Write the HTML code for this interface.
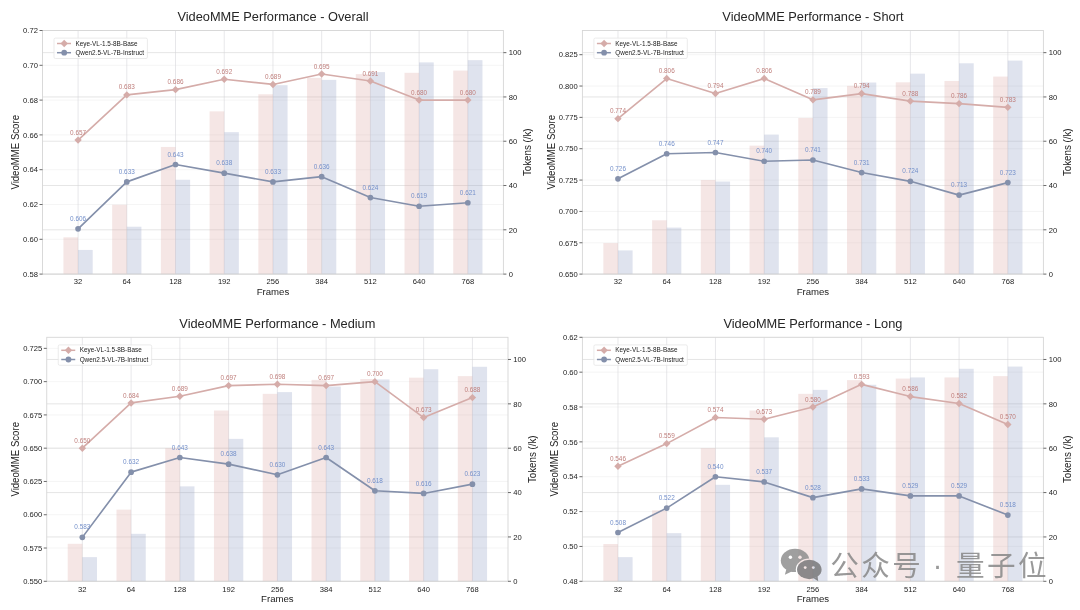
<!DOCTYPE html>
<html lang="zh">
<head>
<meta charset="utf-8">
<title>VideoMME Performance</title>
<style>
html,body{margin:0;padding:0;background:#fff;}
body{width:1080px;height:610px;overflow:hidden;}
svg{display:block;font-family:"Liberation Sans","Noto Sans CJK SC",sans-serif;}
</style>
</head>
<body>
<svg width="1080" height="610" viewBox="0 0 1080 610">
<rect width="1080" height="610" fill="#fff"/>
<g>
<line x1="42.5" x2="503.4" y1="274.1" y2="274.1" stroke="#f1f1f1" stroke-width="0.7"/>
<line x1="42.5" x2="503.4" y1="239.3" y2="239.3" stroke="#f1f1f1" stroke-width="0.7"/>
<line x1="42.5" x2="503.4" y1="204.5" y2="204.5" stroke="#f1f1f1" stroke-width="0.7"/>
<line x1="42.5" x2="503.4" y1="169.7" y2="169.7" stroke="#f1f1f1" stroke-width="0.7"/>
<line x1="42.5" x2="503.4" y1="134.9" y2="134.9" stroke="#f1f1f1" stroke-width="0.7"/>
<line x1="42.5" x2="503.4" y1="100.1" y2="100.1" stroke="#f1f1f1" stroke-width="0.7"/>
<line x1="42.5" x2="503.4" y1="65.3" y2="65.3" stroke="#f1f1f1" stroke-width="0.7"/>
<line x1="42.5" x2="503.4" y1="30.5" y2="30.5" stroke="#f1f1f1" stroke-width="0.7"/>
<line x1="78.07" x2="78.07" y1="30.5" y2="274.1" stroke="#d6d6dc" stroke-width="0.6"/>
<line x1="126.79" x2="126.79" y1="30.5" y2="274.1" stroke="#d6d6dc" stroke-width="0.6"/>
<line x1="175.51" x2="175.51" y1="30.5" y2="274.1" stroke="#d6d6dc" stroke-width="0.6"/>
<line x1="224.23" x2="224.23" y1="30.5" y2="274.1" stroke="#d6d6dc" stroke-width="0.6"/>
<line x1="272.95" x2="272.95" y1="30.5" y2="274.1" stroke="#d6d6dc" stroke-width="0.6"/>
<line x1="321.67" x2="321.67" y1="30.5" y2="274.1" stroke="#d6d6dc" stroke-width="0.6"/>
<line x1="370.39" x2="370.39" y1="30.5" y2="274.1" stroke="#d6d6dc" stroke-width="0.6"/>
<line x1="419.11" x2="419.11" y1="30.5" y2="274.1" stroke="#d6d6dc" stroke-width="0.6"/>
<line x1="467.83" x2="467.83" y1="30.5" y2="274.1" stroke="#d6d6dc" stroke-width="0.6"/>
<line x1="42.5" x2="503.4" y1="274.1" y2="274.1" stroke="#d4d4d4" stroke-width="0.6"/>
<line x1="42.5" x2="503.4" y1="229.81" y2="229.81" stroke="#d4d4d4" stroke-width="0.6"/>
<line x1="42.5" x2="503.4" y1="185.52" y2="185.52" stroke="#d4d4d4" stroke-width="0.6"/>
<line x1="42.5" x2="503.4" y1="141.23" y2="141.23" stroke="#d4d4d4" stroke-width="0.6"/>
<line x1="42.5" x2="503.4" y1="96.94" y2="96.94" stroke="#d4d4d4" stroke-width="0.6"/>
<line x1="42.5" x2="503.4" y1="52.65" y2="52.65" stroke="#d4d4d4" stroke-width="0.6"/>
<rect x="63.45" y="237.34" width="14.62" height="36.76" fill="#dba5a3" fill-opacity="0.28"/>
<rect x="78.07" y="249.96" width="14.62" height="24.14" fill="#8d9cc2" fill-opacity="0.28"/>
<rect x="112.17" y="204.78" width="14.62" height="69.32" fill="#dba5a3" fill-opacity="0.28"/>
<rect x="126.79" y="226.71" width="14.62" height="47.39" fill="#8d9cc2" fill-opacity="0.28"/>
<rect x="160.89" y="146.99" width="14.62" height="127.11" fill="#dba5a3" fill-opacity="0.28"/>
<rect x="175.51" y="179.76" width="14.62" height="94.34" fill="#8d9cc2" fill-opacity="0.28"/>
<rect x="209.61" y="111.33" width="14.62" height="162.77" fill="#dba5a3" fill-opacity="0.28"/>
<rect x="224.23" y="132.15" width="14.62" height="141.95" fill="#8d9cc2" fill-opacity="0.28"/>
<rect x="258.33" y="94.28" width="14.62" height="179.82" fill="#dba5a3" fill-opacity="0.28"/>
<rect x="272.95" y="85.2" width="14.62" height="188.9" fill="#8d9cc2" fill-opacity="0.28"/>
<rect x="307.05" y="77.89" width="14.62" height="196.21" fill="#dba5a3" fill-opacity="0.28"/>
<rect x="321.67" y="79.88" width="14.62" height="194.22" fill="#8d9cc2" fill-opacity="0.28"/>
<rect x="355.78" y="74.13" width="14.62" height="199.97" fill="#dba5a3" fill-opacity="0.28"/>
<rect x="370.39" y="72.13" width="14.62" height="201.97" fill="#8d9cc2" fill-opacity="0.28"/>
<rect x="404.5" y="72.8" width="14.62" height="201.3" fill="#dba5a3" fill-opacity="0.28"/>
<rect x="419.11" y="62.39" width="14.62" height="211.71" fill="#8d9cc2" fill-opacity="0.28"/>
<rect x="453.22" y="70.58" width="14.62" height="203.52" fill="#dba5a3" fill-opacity="0.28"/>
<rect x="467.83" y="60.17" width="14.62" height="213.93" fill="#8d9cc2" fill-opacity="0.28"/>
<polyline points="78.07,140.12 126.79,94.88 175.51,89.66 224.23,79.22 272.95,84.44 321.67,74 370.39,80.96 419.11,100.1 467.83,100.1" fill="none" stroke="#d5aca9" stroke-width="1.65" stroke-linejoin="round"/>
<polyline points="78.07,228.86 126.79,181.88 175.51,164.48 224.23,173.18 272.95,181.88 321.67,176.66 370.39,197.54 419.11,206.24 467.83,202.76" fill="none" stroke="#8490ab" stroke-width="1.65" stroke-linejoin="round"/>
<path d="M78.07 136.42L81.77 140.12L78.07 143.82L74.37 140.12Z" fill="#d5aca9"/>
<path d="M126.79 91.18L130.49 94.88L126.79 98.58L123.09 94.88Z" fill="#d5aca9"/>
<path d="M175.51 85.96L179.21 89.66L175.51 93.36L171.81 89.66Z" fill="#d5aca9"/>
<path d="M224.23 75.52L227.93 79.22L224.23 82.92L220.53 79.22Z" fill="#d5aca9"/>
<path d="M272.95 80.74L276.65 84.44L272.95 88.14L269.25 84.44Z" fill="#d5aca9"/>
<path d="M321.67 70.3L325.37 74L321.67 77.7L317.97 74Z" fill="#d5aca9"/>
<path d="M370.39 77.26L374.09 80.96L370.39 84.66L366.69 80.96Z" fill="#d5aca9"/>
<path d="M419.11 96.4L422.81 100.1L419.11 103.8L415.41 100.1Z" fill="#d5aca9"/>
<path d="M467.83 96.4L471.53 100.1L467.83 103.8L464.13 100.1Z" fill="#d5aca9"/>
<circle cx="78.07" cy="228.86" r="2.85" fill="#8490ab"/>
<circle cx="126.79" cy="181.88" r="2.85" fill="#8490ab"/>
<circle cx="175.51" cy="164.48" r="2.85" fill="#8490ab"/>
<circle cx="224.23" cy="173.18" r="2.85" fill="#8490ab"/>
<circle cx="272.95" cy="181.88" r="2.85" fill="#8490ab"/>
<circle cx="321.67" cy="176.66" r="2.85" fill="#8490ab"/>
<circle cx="370.39" cy="197.54" r="2.85" fill="#8490ab"/>
<circle cx="419.11" cy="206.24" r="2.85" fill="#8490ab"/>
<circle cx="467.83" cy="202.76" r="2.85" fill="#8490ab"/>
<rect x="42.5" y="30.5" width="460.9" height="243.6" fill="none" stroke="#d6d6d6" stroke-width="0.9"/>
<g font-size="7.6" fill="#222">
<line x1="39.5" x2="42.5" y1="274.1" y2="274.1" stroke="#444" stroke-width="0.8"/>
<text x="37.9" y="276.85" text-anchor="end">0.58</text>
<line x1="39.5" x2="42.5" y1="239.3" y2="239.3" stroke="#444" stroke-width="0.8"/>
<text x="37.9" y="242.05" text-anchor="end">0.60</text>
<line x1="39.5" x2="42.5" y1="204.5" y2="204.5" stroke="#444" stroke-width="0.8"/>
<text x="37.9" y="207.25" text-anchor="end">0.62</text>
<line x1="39.5" x2="42.5" y1="169.7" y2="169.7" stroke="#444" stroke-width="0.8"/>
<text x="37.9" y="172.45" text-anchor="end">0.64</text>
<line x1="39.5" x2="42.5" y1="134.9" y2="134.9" stroke="#444" stroke-width="0.8"/>
<text x="37.9" y="137.65" text-anchor="end">0.66</text>
<line x1="39.5" x2="42.5" y1="100.1" y2="100.1" stroke="#444" stroke-width="0.8"/>
<text x="37.9" y="102.85" text-anchor="end">0.68</text>
<line x1="39.5" x2="42.5" y1="65.3" y2="65.3" stroke="#444" stroke-width="0.8"/>
<text x="37.9" y="68.05" text-anchor="end">0.70</text>
<line x1="39.5" x2="42.5" y1="30.5" y2="30.5" stroke="#444" stroke-width="0.8"/>
<text x="37.9" y="33.25" text-anchor="end">0.72</text>
<line x1="503.4" x2="506.4" y1="274.1" y2="274.1" stroke="#444" stroke-width="0.8"/>
<text x="508.7" y="276.85">0</text>
<line x1="503.4" x2="506.4" y1="229.81" y2="229.81" stroke="#444" stroke-width="0.8"/>
<text x="508.7" y="232.56">20</text>
<line x1="503.4" x2="506.4" y1="185.52" y2="185.52" stroke="#444" stroke-width="0.8"/>
<text x="508.7" y="188.27">40</text>
<line x1="503.4" x2="506.4" y1="141.23" y2="141.23" stroke="#444" stroke-width="0.8"/>
<text x="508.7" y="143.98">60</text>
<line x1="503.4" x2="506.4" y1="96.94" y2="96.94" stroke="#444" stroke-width="0.8"/>
<text x="508.7" y="99.69">80</text>
<line x1="503.4" x2="506.4" y1="52.65" y2="52.65" stroke="#444" stroke-width="0.8"/>
<text x="508.7" y="55.4">100</text>
<text x="78.07" y="284.3" text-anchor="middle">32</text>
<text x="126.79" y="284.3" text-anchor="middle">64</text>
<text x="175.51" y="284.3" text-anchor="middle">128</text>
<text x="224.23" y="284.3" text-anchor="middle">192</text>
<text x="272.95" y="284.3" text-anchor="middle">256</text>
<text x="321.67" y="284.3" text-anchor="middle">384</text>
<text x="370.39" y="284.3" text-anchor="middle">512</text>
<text x="419.11" y="284.3" text-anchor="middle">640</text>
<text x="467.83" y="284.3" text-anchor="middle">768</text>
</g>
<g font-size="6.4" text-anchor="middle">
<text x="78.07" y="134.72" fill="#bf7e7b">0.657</text>
<text x="126.79" y="89.48" fill="#bf7e7b">0.683</text>
<text x="175.51" y="84.26" fill="#bf7e7b">0.686</text>
<text x="224.23" y="73.82" fill="#bf7e7b">0.692</text>
<text x="272.95" y="79.04" fill="#bf7e7b">0.689</text>
<text x="321.67" y="68.6" fill="#bf7e7b">0.695</text>
<text x="370.39" y="75.56" fill="#bf7e7b">0.691</text>
<text x="419.11" y="94.7" fill="#bf7e7b">0.680</text>
<text x="467.83" y="94.7" fill="#bf7e7b">0.680</text>
<text x="78.07" y="220.96" fill="#7490ca">0.606</text>
<text x="126.79" y="173.98" fill="#7490ca">0.633</text>
<text x="175.51" y="156.58" fill="#7490ca">0.643</text>
<text x="224.23" y="165.28" fill="#7490ca">0.638</text>
<text x="272.95" y="173.98" fill="#7490ca">0.633</text>
<text x="321.67" y="168.76" fill="#7490ca">0.636</text>
<text x="370.39" y="189.64" fill="#7490ca">0.624</text>
<text x="419.11" y="198.34" fill="#7490ca">0.619</text>
<text x="467.83" y="194.86" fill="#7490ca">0.621</text>
</g>
<text x="272.95" y="20.9" font-size="12.8" fill="#262626" text-anchor="middle">VideoMME Performance - Overall</text>
<text x="272.95" y="294.8" font-size="9.6" fill="#222" text-anchor="middle">Frames</text>
<text transform="translate(18.5 152.3) rotate(-90)" font-size="10.1" fill="#222" text-anchor="middle" textLength="74.6" lengthAdjust="spacingAndGlyphs">VideoMME Score</text>
<text transform="translate(531.4 152.3) rotate(-90)" font-size="10.1" fill="#222" text-anchor="middle" textLength="47.6" lengthAdjust="spacingAndGlyphs">Tokens (/k)</text>
<rect x="54" y="38.1" width="93.4" height="20.4" rx="1.4" fill="#fff" fill-opacity="0.8" stroke="#e2e2e2" stroke-width="0.7"/>
<line x1="57" x2="71" y1="43.5" y2="43.5" stroke="#d5aca9" stroke-width="1.5"/>
<path d="M64.2 39.8L67.9 43.5L64.2 47.2L60.5 43.5Z" fill="#d5aca9"/>
<text x="75.4" y="45.6" font-size="6.4" fill="#222">Keye-VL-1.5-8B-Base</text>
<line x1="57" x2="71" y1="52.7" y2="52.7" stroke="#8490ab" stroke-width="1.5"/>
<circle cx="64.2" cy="52.7" r="2.9" fill="#8490ab"/>
<text x="75.4" y="54.8" font-size="6.4" fill="#222">Qwen2.5-VL-7B-Instruct</text>
</g>
<g>
<line x1="582.4" x2="1043.4" y1="274.1" y2="274.1" stroke="#f1f1f1" stroke-width="0.7"/>
<line x1="582.4" x2="1043.4" y1="242.76" y2="242.76" stroke="#f1f1f1" stroke-width="0.7"/>
<line x1="582.4" x2="1043.4" y1="211.41" y2="211.41" stroke="#f1f1f1" stroke-width="0.7"/>
<line x1="582.4" x2="1043.4" y1="180.07" y2="180.07" stroke="#f1f1f1" stroke-width="0.7"/>
<line x1="582.4" x2="1043.4" y1="148.73" y2="148.73" stroke="#f1f1f1" stroke-width="0.7"/>
<line x1="582.4" x2="1043.4" y1="117.38" y2="117.38" stroke="#f1f1f1" stroke-width="0.7"/>
<line x1="582.4" x2="1043.4" y1="86.04" y2="86.04" stroke="#f1f1f1" stroke-width="0.7"/>
<line x1="582.4" x2="1043.4" y1="54.7" y2="54.7" stroke="#f1f1f1" stroke-width="0.7"/>
<line x1="617.97" x2="617.97" y1="30.5" y2="274.1" stroke="#d6d6dc" stroke-width="0.6"/>
<line x1="666.71" x2="666.71" y1="30.5" y2="274.1" stroke="#d6d6dc" stroke-width="0.6"/>
<line x1="715.44" x2="715.44" y1="30.5" y2="274.1" stroke="#d6d6dc" stroke-width="0.6"/>
<line x1="764.17" x2="764.17" y1="30.5" y2="274.1" stroke="#d6d6dc" stroke-width="0.6"/>
<line x1="812.9" x2="812.9" y1="30.5" y2="274.1" stroke="#d6d6dc" stroke-width="0.6"/>
<line x1="861.63" x2="861.63" y1="30.5" y2="274.1" stroke="#d6d6dc" stroke-width="0.6"/>
<line x1="910.36" x2="910.36" y1="30.5" y2="274.1" stroke="#d6d6dc" stroke-width="0.6"/>
<line x1="959.09" x2="959.09" y1="30.5" y2="274.1" stroke="#d6d6dc" stroke-width="0.6"/>
<line x1="1007.83" x2="1007.83" y1="30.5" y2="274.1" stroke="#d6d6dc" stroke-width="0.6"/>
<line x1="582.4" x2="1043.4" y1="274.1" y2="274.1" stroke="#d4d4d4" stroke-width="0.6"/>
<line x1="582.4" x2="1043.4" y1="229.81" y2="229.81" stroke="#d4d4d4" stroke-width="0.6"/>
<line x1="582.4" x2="1043.4" y1="185.52" y2="185.52" stroke="#d4d4d4" stroke-width="0.6"/>
<line x1="582.4" x2="1043.4" y1="141.23" y2="141.23" stroke="#d4d4d4" stroke-width="0.6"/>
<line x1="582.4" x2="1043.4" y1="96.94" y2="96.94" stroke="#d4d4d4" stroke-width="0.6"/>
<line x1="582.4" x2="1043.4" y1="52.65" y2="52.65" stroke="#d4d4d4" stroke-width="0.6"/>
<rect x="603.35" y="243.1" width="14.62" height="31" fill="#dba5a3" fill-opacity="0.28"/>
<rect x="617.97" y="250.4" width="14.62" height="23.7" fill="#8d9cc2" fill-opacity="0.28"/>
<rect x="652.09" y="220.29" width="14.62" height="53.81" fill="#dba5a3" fill-opacity="0.28"/>
<rect x="666.71" y="227.59" width="14.62" height="46.51" fill="#8d9cc2" fill-opacity="0.28"/>
<rect x="700.82" y="179.98" width="14.62" height="94.12" fill="#dba5a3" fill-opacity="0.28"/>
<rect x="715.44" y="181.53" width="14.62" height="92.57" fill="#8d9cc2" fill-opacity="0.28"/>
<rect x="749.55" y="145.66" width="14.62" height="128.44" fill="#dba5a3" fill-opacity="0.28"/>
<rect x="764.17" y="134.58" width="14.62" height="139.52" fill="#8d9cc2" fill-opacity="0.28"/>
<rect x="798.28" y="117.97" width="14.62" height="156.13" fill="#dba5a3" fill-opacity="0.28"/>
<rect x="812.9" y="88.08" width="14.62" height="186.02" fill="#8d9cc2" fill-opacity="0.28"/>
<rect x="847.01" y="85.86" width="14.62" height="188.24" fill="#dba5a3" fill-opacity="0.28"/>
<rect x="861.63" y="82.54" width="14.62" height="191.56" fill="#8d9cc2" fill-opacity="0.28"/>
<rect x="895.74" y="82.32" width="14.62" height="191.78" fill="#dba5a3" fill-opacity="0.28"/>
<rect x="910.36" y="73.68" width="14.62" height="200.42" fill="#8d9cc2" fill-opacity="0.28"/>
<rect x="944.48" y="80.99" width="14.62" height="193.11" fill="#dba5a3" fill-opacity="0.28"/>
<rect x="959.09" y="63.28" width="14.62" height="210.82" fill="#8d9cc2" fill-opacity="0.28"/>
<rect x="993.21" y="76.56" width="14.62" height="197.54" fill="#dba5a3" fill-opacity="0.28"/>
<rect x="1007.83" y="60.62" width="14.62" height="213.48" fill="#8d9cc2" fill-opacity="0.28"/>
<polyline points="617.97,118.64 666.71,78.52 715.44,93.56 764.17,78.52 812.9,99.83 861.63,93.56 910.36,101.09 959.09,103.59 1007.83,107.35" fill="none" stroke="#d5aca9" stroke-width="1.65" stroke-linejoin="round"/>
<polyline points="617.97,178.82 666.71,153.74 715.44,152.49 764.17,161.26 812.9,160.01 861.63,172.55 910.36,181.32 959.09,195.11 1007.83,182.58" fill="none" stroke="#8490ab" stroke-width="1.65" stroke-linejoin="round"/>
<path d="M617.97 114.94L621.67 118.64L617.97 122.34L614.27 118.64Z" fill="#d5aca9"/>
<path d="M666.71 74.82L670.41 78.52L666.71 82.22L663.01 78.52Z" fill="#d5aca9"/>
<path d="M715.44 89.86L719.14 93.56L715.44 97.26L711.74 93.56Z" fill="#d5aca9"/>
<path d="M764.17 74.82L767.87 78.52L764.17 82.22L760.47 78.52Z" fill="#d5aca9"/>
<path d="M812.9 96.13L816.6 99.83L812.9 103.53L809.2 99.83Z" fill="#d5aca9"/>
<path d="M861.63 89.86L865.33 93.56L861.63 97.26L857.93 93.56Z" fill="#d5aca9"/>
<path d="M910.36 97.39L914.06 101.09L910.36 104.79L906.66 101.09Z" fill="#d5aca9"/>
<path d="M959.09 99.89L962.79 103.59L959.09 107.29L955.39 103.59Z" fill="#d5aca9"/>
<path d="M1007.83 103.65L1011.53 107.35L1007.83 111.05L1004.13 107.35Z" fill="#d5aca9"/>
<circle cx="617.97" cy="178.82" r="2.85" fill="#8490ab"/>
<circle cx="666.71" cy="153.74" r="2.85" fill="#8490ab"/>
<circle cx="715.44" cy="152.49" r="2.85" fill="#8490ab"/>
<circle cx="764.17" cy="161.26" r="2.85" fill="#8490ab"/>
<circle cx="812.9" cy="160.01" r="2.85" fill="#8490ab"/>
<circle cx="861.63" cy="172.55" r="2.85" fill="#8490ab"/>
<circle cx="910.36" cy="181.32" r="2.85" fill="#8490ab"/>
<circle cx="959.09" cy="195.11" r="2.85" fill="#8490ab"/>
<circle cx="1007.83" cy="182.58" r="2.85" fill="#8490ab"/>
<rect x="582.4" y="30.5" width="461" height="243.6" fill="none" stroke="#d6d6d6" stroke-width="0.9"/>
<g font-size="7.6" fill="#222">
<line x1="579.4" x2="582.4" y1="274.1" y2="274.1" stroke="#444" stroke-width="0.8"/>
<text x="577.8" y="276.85" text-anchor="end">0.650</text>
<line x1="579.4" x2="582.4" y1="242.76" y2="242.76" stroke="#444" stroke-width="0.8"/>
<text x="577.8" y="245.51" text-anchor="end">0.675</text>
<line x1="579.4" x2="582.4" y1="211.41" y2="211.41" stroke="#444" stroke-width="0.8"/>
<text x="577.8" y="214.16" text-anchor="end">0.700</text>
<line x1="579.4" x2="582.4" y1="180.07" y2="180.07" stroke="#444" stroke-width="0.8"/>
<text x="577.8" y="182.82" text-anchor="end">0.725</text>
<line x1="579.4" x2="582.4" y1="148.73" y2="148.73" stroke="#444" stroke-width="0.8"/>
<text x="577.8" y="151.48" text-anchor="end">0.750</text>
<line x1="579.4" x2="582.4" y1="117.38" y2="117.38" stroke="#444" stroke-width="0.8"/>
<text x="577.8" y="120.13" text-anchor="end">0.775</text>
<line x1="579.4" x2="582.4" y1="86.04" y2="86.04" stroke="#444" stroke-width="0.8"/>
<text x="577.8" y="88.79" text-anchor="end">0.800</text>
<line x1="579.4" x2="582.4" y1="54.7" y2="54.7" stroke="#444" stroke-width="0.8"/>
<text x="577.8" y="57.45" text-anchor="end">0.825</text>
<line x1="1043.4" x2="1046.4" y1="274.1" y2="274.1" stroke="#444" stroke-width="0.8"/>
<text x="1048.7" y="276.85">0</text>
<line x1="1043.4" x2="1046.4" y1="229.81" y2="229.81" stroke="#444" stroke-width="0.8"/>
<text x="1048.7" y="232.56">20</text>
<line x1="1043.4" x2="1046.4" y1="185.52" y2="185.52" stroke="#444" stroke-width="0.8"/>
<text x="1048.7" y="188.27">40</text>
<line x1="1043.4" x2="1046.4" y1="141.23" y2="141.23" stroke="#444" stroke-width="0.8"/>
<text x="1048.7" y="143.98">60</text>
<line x1="1043.4" x2="1046.4" y1="96.94" y2="96.94" stroke="#444" stroke-width="0.8"/>
<text x="1048.7" y="99.69">80</text>
<line x1="1043.4" x2="1046.4" y1="52.65" y2="52.65" stroke="#444" stroke-width="0.8"/>
<text x="1048.7" y="55.4">100</text>
<text x="617.97" y="284.3" text-anchor="middle">32</text>
<text x="666.71" y="284.3" text-anchor="middle">64</text>
<text x="715.44" y="284.3" text-anchor="middle">128</text>
<text x="764.17" y="284.3" text-anchor="middle">192</text>
<text x="812.9" y="284.3" text-anchor="middle">256</text>
<text x="861.63" y="284.3" text-anchor="middle">384</text>
<text x="910.36" y="284.3" text-anchor="middle">512</text>
<text x="959.09" y="284.3" text-anchor="middle">640</text>
<text x="1007.83" y="284.3" text-anchor="middle">768</text>
</g>
<g font-size="6.4" text-anchor="middle">
<text x="617.97" y="113.24" fill="#bf7e7b">0.774</text>
<text x="666.71" y="73.12" fill="#bf7e7b">0.806</text>
<text x="715.44" y="88.16" fill="#bf7e7b">0.794</text>
<text x="764.17" y="73.12" fill="#bf7e7b">0.806</text>
<text x="812.9" y="94.43" fill="#bf7e7b">0.789</text>
<text x="861.63" y="88.16" fill="#bf7e7b">0.794</text>
<text x="910.36" y="95.69" fill="#bf7e7b">0.788</text>
<text x="959.09" y="98.19" fill="#bf7e7b">0.786</text>
<text x="1007.83" y="101.95" fill="#bf7e7b">0.783</text>
<text x="617.97" y="170.92" fill="#7490ca">0.726</text>
<text x="666.71" y="145.84" fill="#7490ca">0.746</text>
<text x="715.44" y="144.59" fill="#7490ca">0.747</text>
<text x="764.17" y="153.36" fill="#7490ca">0.740</text>
<text x="812.9" y="152.11" fill="#7490ca">0.741</text>
<text x="861.63" y="164.65" fill="#7490ca">0.731</text>
<text x="910.36" y="173.42" fill="#7490ca">0.724</text>
<text x="959.09" y="187.21" fill="#7490ca">0.713</text>
<text x="1007.83" y="174.68" fill="#7490ca">0.723</text>
</g>
<text x="812.9" y="20.9" font-size="12.8" fill="#262626" text-anchor="middle">VideoMME Performance - Short</text>
<text x="812.9" y="294.8" font-size="9.6" fill="#222" text-anchor="middle">Frames</text>
<text transform="translate(555.1 152.3) rotate(-90)" font-size="10.1" fill="#222" text-anchor="middle" textLength="74.6" lengthAdjust="spacingAndGlyphs">VideoMME Score</text>
<text transform="translate(1071.4 152.3) rotate(-90)" font-size="10.1" fill="#222" text-anchor="middle" textLength="47.6" lengthAdjust="spacingAndGlyphs">Tokens (/k)</text>
<rect x="593.9" y="38.1" width="93.4" height="20.4" rx="1.4" fill="#fff" fill-opacity="0.8" stroke="#e2e2e2" stroke-width="0.7"/>
<line x1="596.9" x2="610.9" y1="43.5" y2="43.5" stroke="#d5aca9" stroke-width="1.5"/>
<path d="M604.1 39.8L607.8 43.5L604.1 47.2L600.4 43.5Z" fill="#d5aca9"/>
<text x="615.3" y="45.6" font-size="6.4" fill="#222">Keye-VL-1.5-8B-Base</text>
<line x1="596.9" x2="610.9" y1="52.7" y2="52.7" stroke="#8490ab" stroke-width="1.5"/>
<circle cx="604.1" cy="52.7" r="2.9" fill="#8490ab"/>
<text x="615.3" y="54.8" font-size="6.4" fill="#222">Qwen2.5-VL-7B-Instruct</text>
</g>
<g>
<line x1="46.75" x2="508" y1="581.3" y2="581.3" stroke="#f1f1f1" stroke-width="0.7"/>
<line x1="46.75" x2="508" y1="548.02" y2="548.02" stroke="#f1f1f1" stroke-width="0.7"/>
<line x1="46.75" x2="508" y1="514.74" y2="514.74" stroke="#f1f1f1" stroke-width="0.7"/>
<line x1="46.75" x2="508" y1="481.46" y2="481.46" stroke="#f1f1f1" stroke-width="0.7"/>
<line x1="46.75" x2="508" y1="448.18" y2="448.18" stroke="#f1f1f1" stroke-width="0.7"/>
<line x1="46.75" x2="508" y1="414.91" y2="414.91" stroke="#f1f1f1" stroke-width="0.7"/>
<line x1="46.75" x2="508" y1="381.63" y2="381.63" stroke="#f1f1f1" stroke-width="0.7"/>
<line x1="46.75" x2="508" y1="348.35" y2="348.35" stroke="#f1f1f1" stroke-width="0.7"/>
<line x1="82.34" x2="82.34" y1="337.3" y2="581.3" stroke="#d6d6dc" stroke-width="0.6"/>
<line x1="131.1" x2="131.1" y1="337.3" y2="581.3" stroke="#d6d6dc" stroke-width="0.6"/>
<line x1="179.86" x2="179.86" y1="337.3" y2="581.3" stroke="#d6d6dc" stroke-width="0.6"/>
<line x1="228.62" x2="228.62" y1="337.3" y2="581.3" stroke="#d6d6dc" stroke-width="0.6"/>
<line x1="277.38" x2="277.38" y1="337.3" y2="581.3" stroke="#d6d6dc" stroke-width="0.6"/>
<line x1="326.13" x2="326.13" y1="337.3" y2="581.3" stroke="#d6d6dc" stroke-width="0.6"/>
<line x1="374.89" x2="374.89" y1="337.3" y2="581.3" stroke="#d6d6dc" stroke-width="0.6"/>
<line x1="423.65" x2="423.65" y1="337.3" y2="581.3" stroke="#d6d6dc" stroke-width="0.6"/>
<line x1="472.41" x2="472.41" y1="337.3" y2="581.3" stroke="#d6d6dc" stroke-width="0.6"/>
<line x1="46.75" x2="508" y1="581.3" y2="581.3" stroke="#d4d4d4" stroke-width="0.6"/>
<line x1="46.75" x2="508" y1="536.94" y2="536.94" stroke="#d4d4d4" stroke-width="0.6"/>
<line x1="46.75" x2="508" y1="492.57" y2="492.57" stroke="#d4d4d4" stroke-width="0.6"/>
<line x1="46.75" x2="508" y1="448.21" y2="448.21" stroke="#d4d4d4" stroke-width="0.6"/>
<line x1="46.75" x2="508" y1="403.85" y2="403.85" stroke="#d4d4d4" stroke-width="0.6"/>
<line x1="46.75" x2="508" y1="359.48" y2="359.48" stroke="#d4d4d4" stroke-width="0.6"/>
<rect x="67.72" y="543.81" width="14.63" height="37.49" fill="#dba5a3" fill-opacity="0.28"/>
<rect x="82.34" y="557.12" width="14.63" height="24.18" fill="#8d9cc2" fill-opacity="0.28"/>
<rect x="116.47" y="509.65" width="14.63" height="71.65" fill="#dba5a3" fill-opacity="0.28"/>
<rect x="131.1" y="533.83" width="14.63" height="47.47" fill="#8d9cc2" fill-opacity="0.28"/>
<rect x="165.23" y="448.21" width="14.63" height="133.09" fill="#dba5a3" fill-opacity="0.28"/>
<rect x="179.86" y="486.36" width="14.63" height="94.94" fill="#8d9cc2" fill-opacity="0.28"/>
<rect x="213.99" y="410.5" width="14.63" height="170.8" fill="#dba5a3" fill-opacity="0.28"/>
<rect x="228.62" y="438.89" width="14.63" height="142.41" fill="#8d9cc2" fill-opacity="0.28"/>
<rect x="262.75" y="393.86" width="14.63" height="187.44" fill="#dba5a3" fill-opacity="0.28"/>
<rect x="277.38" y="392.09" width="14.63" height="189.21" fill="#8d9cc2" fill-opacity="0.28"/>
<rect x="311.51" y="379.89" width="14.63" height="201.41" fill="#dba5a3" fill-opacity="0.28"/>
<rect x="326.13" y="386.54" width="14.63" height="194.76" fill="#8d9cc2" fill-opacity="0.28"/>
<rect x="360.26" y="379" width="14.63" height="202.3" fill="#dba5a3" fill-opacity="0.28"/>
<rect x="374.89" y="379.45" width="14.63" height="201.85" fill="#8d9cc2" fill-opacity="0.28"/>
<rect x="409.02" y="377.67" width="14.63" height="203.63" fill="#dba5a3" fill-opacity="0.28"/>
<rect x="423.65" y="369.24" width="14.63" height="212.06" fill="#8d9cc2" fill-opacity="0.28"/>
<rect x="457.78" y="376.12" width="14.63" height="205.18" fill="#dba5a3" fill-opacity="0.28"/>
<rect x="472.41" y="366.8" width="14.63" height="214.5" fill="#8d9cc2" fill-opacity="0.28"/>
<polyline points="82.34,448.18 131.1,402.93 179.86,396.27 228.62,385.62 277.38,384.29 326.13,385.62 374.89,381.63 423.65,417.57 472.41,397.6" fill="none" stroke="#d5aca9" stroke-width="1.65" stroke-linejoin="round"/>
<polyline points="82.34,537.37 131.1,472.15 179.86,457.5 228.62,464.16 277.38,474.81 326.13,457.5 374.89,490.78 423.65,493.44 472.41,484.13" fill="none" stroke="#8490ab" stroke-width="1.65" stroke-linejoin="round"/>
<path d="M82.34 444.48L86.04 448.18L82.34 451.88L78.64 448.18Z" fill="#d5aca9"/>
<path d="M131.1 399.23L134.8 402.93L131.1 406.63L127.4 402.93Z" fill="#d5aca9"/>
<path d="M179.86 392.57L183.56 396.27L179.86 399.97L176.16 396.27Z" fill="#d5aca9"/>
<path d="M228.62 381.92L232.32 385.62L228.62 389.32L224.92 385.62Z" fill="#d5aca9"/>
<path d="M277.38 380.59L281.07 384.29L277.38 387.99L273.68 384.29Z" fill="#d5aca9"/>
<path d="M326.13 381.92L329.83 385.62L326.13 389.32L322.43 385.62Z" fill="#d5aca9"/>
<path d="M374.89 377.93L378.59 381.63L374.89 385.33L371.19 381.63Z" fill="#d5aca9"/>
<path d="M423.65 413.87L427.35 417.57L423.65 421.27L419.95 417.57Z" fill="#d5aca9"/>
<path d="M472.41 393.9L476.11 397.6L472.41 401.3L468.71 397.6Z" fill="#d5aca9"/>
<circle cx="82.34" cy="537.37" r="2.85" fill="#8490ab"/>
<circle cx="131.1" cy="472.15" r="2.85" fill="#8490ab"/>
<circle cx="179.86" cy="457.5" r="2.85" fill="#8490ab"/>
<circle cx="228.62" cy="464.16" r="2.85" fill="#8490ab"/>
<circle cx="277.38" cy="474.81" r="2.85" fill="#8490ab"/>
<circle cx="326.13" cy="457.5" r="2.85" fill="#8490ab"/>
<circle cx="374.89" cy="490.78" r="2.85" fill="#8490ab"/>
<circle cx="423.65" cy="493.44" r="2.85" fill="#8490ab"/>
<circle cx="472.41" cy="484.13" r="2.85" fill="#8490ab"/>
<rect x="46.75" y="337.3" width="461.25" height="244" fill="none" stroke="#d6d6d6" stroke-width="0.9"/>
<g font-size="7.6" fill="#222">
<line x1="43.75" x2="46.75" y1="581.3" y2="581.3" stroke="#444" stroke-width="0.8"/>
<text x="42.15" y="584.05" text-anchor="end">0.550</text>
<line x1="43.75" x2="46.75" y1="548.02" y2="548.02" stroke="#444" stroke-width="0.8"/>
<text x="42.15" y="550.77" text-anchor="end">0.575</text>
<line x1="43.75" x2="46.75" y1="514.74" y2="514.74" stroke="#444" stroke-width="0.8"/>
<text x="42.15" y="517.49" text-anchor="end">0.600</text>
<line x1="43.75" x2="46.75" y1="481.46" y2="481.46" stroke="#444" stroke-width="0.8"/>
<text x="42.15" y="484.21" text-anchor="end">0.625</text>
<line x1="43.75" x2="46.75" y1="448.18" y2="448.18" stroke="#444" stroke-width="0.8"/>
<text x="42.15" y="450.93" text-anchor="end">0.650</text>
<line x1="43.75" x2="46.75" y1="414.91" y2="414.91" stroke="#444" stroke-width="0.8"/>
<text x="42.15" y="417.66" text-anchor="end">0.675</text>
<line x1="43.75" x2="46.75" y1="381.63" y2="381.63" stroke="#444" stroke-width="0.8"/>
<text x="42.15" y="384.38" text-anchor="end">0.700</text>
<line x1="43.75" x2="46.75" y1="348.35" y2="348.35" stroke="#444" stroke-width="0.8"/>
<text x="42.15" y="351.1" text-anchor="end">0.725</text>
<line x1="508" x2="511" y1="581.3" y2="581.3" stroke="#444" stroke-width="0.8"/>
<text x="513.3" y="584.05">0</text>
<line x1="508" x2="511" y1="536.94" y2="536.94" stroke="#444" stroke-width="0.8"/>
<text x="513.3" y="539.69">20</text>
<line x1="508" x2="511" y1="492.57" y2="492.57" stroke="#444" stroke-width="0.8"/>
<text x="513.3" y="495.32">40</text>
<line x1="508" x2="511" y1="448.21" y2="448.21" stroke="#444" stroke-width="0.8"/>
<text x="513.3" y="450.96">60</text>
<line x1="508" x2="511" y1="403.85" y2="403.85" stroke="#444" stroke-width="0.8"/>
<text x="513.3" y="406.6">80</text>
<line x1="508" x2="511" y1="359.48" y2="359.48" stroke="#444" stroke-width="0.8"/>
<text x="513.3" y="362.23">100</text>
<text x="82.34" y="591.5" text-anchor="middle">32</text>
<text x="131.1" y="591.5" text-anchor="middle">64</text>
<text x="179.86" y="591.5" text-anchor="middle">128</text>
<text x="228.62" y="591.5" text-anchor="middle">192</text>
<text x="277.38" y="591.5" text-anchor="middle">256</text>
<text x="326.13" y="591.5" text-anchor="middle">384</text>
<text x="374.89" y="591.5" text-anchor="middle">512</text>
<text x="423.65" y="591.5" text-anchor="middle">640</text>
<text x="472.41" y="591.5" text-anchor="middle">768</text>
</g>
<g font-size="6.4" text-anchor="middle">
<text x="82.34" y="442.78" fill="#bf7e7b">0.650</text>
<text x="131.1" y="397.53" fill="#bf7e7b">0.684</text>
<text x="179.86" y="390.87" fill="#bf7e7b">0.689</text>
<text x="228.62" y="380.22" fill="#bf7e7b">0.697</text>
<text x="277.38" y="378.89" fill="#bf7e7b">0.698</text>
<text x="326.13" y="380.22" fill="#bf7e7b">0.697</text>
<text x="374.89" y="376.23" fill="#bf7e7b">0.700</text>
<text x="423.65" y="412.17" fill="#bf7e7b">0.673</text>
<text x="472.41" y="392.2" fill="#bf7e7b">0.688</text>
<text x="82.34" y="529.47" fill="#7490ca">0.583</text>
<text x="131.1" y="464.25" fill="#7490ca">0.632</text>
<text x="179.86" y="449.6" fill="#7490ca">0.643</text>
<text x="228.62" y="456.26" fill="#7490ca">0.638</text>
<text x="277.38" y="466.91" fill="#7490ca">0.630</text>
<text x="326.13" y="449.6" fill="#7490ca">0.643</text>
<text x="374.89" y="482.88" fill="#7490ca">0.618</text>
<text x="423.65" y="485.54" fill="#7490ca">0.616</text>
<text x="472.41" y="476.23" fill="#7490ca">0.623</text>
</g>
<text x="277.38" y="327.7" font-size="12.8" fill="#262626" text-anchor="middle">VideoMME Performance - Medium</text>
<text x="277.38" y="602" font-size="9.6" fill="#222" text-anchor="middle">Frames</text>
<text transform="translate(19.45 459.3) rotate(-90)" font-size="10.1" fill="#222" text-anchor="middle" textLength="74.6" lengthAdjust="spacingAndGlyphs">VideoMME Score</text>
<text transform="translate(536 459.3) rotate(-90)" font-size="10.1" fill="#222" text-anchor="middle" textLength="47.6" lengthAdjust="spacingAndGlyphs">Tokens (/k)</text>
<rect x="58.25" y="344.9" width="93.4" height="20.4" rx="1.4" fill="#fff" fill-opacity="0.8" stroke="#e2e2e2" stroke-width="0.7"/>
<line x1="61.25" x2="75.25" y1="350.3" y2="350.3" stroke="#d5aca9" stroke-width="1.5"/>
<path d="M68.45 346.6L72.15 350.3L68.45 354L64.75 350.3Z" fill="#d5aca9"/>
<text x="79.65" y="352.4" font-size="6.4" fill="#222">Keye-VL-1.5-8B-Base</text>
<line x1="61.25" x2="75.25" y1="359.5" y2="359.5" stroke="#8490ab" stroke-width="1.5"/>
<circle cx="68.45" cy="359.5" r="2.9" fill="#8490ab"/>
<text x="79.65" y="361.6" font-size="6.4" fill="#222">Qwen2.5-VL-7B-Instruct</text>
</g>
<g>
<line x1="582.4" x2="1043.4" y1="581.3" y2="581.3" stroke="#f1f1f1" stroke-width="0.7"/>
<line x1="582.4" x2="1043.4" y1="546.44" y2="546.44" stroke="#f1f1f1" stroke-width="0.7"/>
<line x1="582.4" x2="1043.4" y1="511.59" y2="511.59" stroke="#f1f1f1" stroke-width="0.7"/>
<line x1="582.4" x2="1043.4" y1="476.73" y2="476.73" stroke="#f1f1f1" stroke-width="0.7"/>
<line x1="582.4" x2="1043.4" y1="441.87" y2="441.87" stroke="#f1f1f1" stroke-width="0.7"/>
<line x1="582.4" x2="1043.4" y1="407.01" y2="407.01" stroke="#f1f1f1" stroke-width="0.7"/>
<line x1="582.4" x2="1043.4" y1="372.16" y2="372.16" stroke="#f1f1f1" stroke-width="0.7"/>
<line x1="582.4" x2="1043.4" y1="337.3" y2="337.3" stroke="#f1f1f1" stroke-width="0.7"/>
<line x1="617.97" x2="617.97" y1="337.3" y2="581.3" stroke="#d6d6dc" stroke-width="0.6"/>
<line x1="666.71" x2="666.71" y1="337.3" y2="581.3" stroke="#d6d6dc" stroke-width="0.6"/>
<line x1="715.44" x2="715.44" y1="337.3" y2="581.3" stroke="#d6d6dc" stroke-width="0.6"/>
<line x1="764.17" x2="764.17" y1="337.3" y2="581.3" stroke="#d6d6dc" stroke-width="0.6"/>
<line x1="812.9" x2="812.9" y1="337.3" y2="581.3" stroke="#d6d6dc" stroke-width="0.6"/>
<line x1="861.63" x2="861.63" y1="337.3" y2="581.3" stroke="#d6d6dc" stroke-width="0.6"/>
<line x1="910.36" x2="910.36" y1="337.3" y2="581.3" stroke="#d6d6dc" stroke-width="0.6"/>
<line x1="959.09" x2="959.09" y1="337.3" y2="581.3" stroke="#d6d6dc" stroke-width="0.6"/>
<line x1="1007.83" x2="1007.83" y1="337.3" y2="581.3" stroke="#d6d6dc" stroke-width="0.6"/>
<line x1="582.4" x2="1043.4" y1="581.3" y2="581.3" stroke="#d4d4d4" stroke-width="0.6"/>
<line x1="582.4" x2="1043.4" y1="536.94" y2="536.94" stroke="#d4d4d4" stroke-width="0.6"/>
<line x1="582.4" x2="1043.4" y1="492.57" y2="492.57" stroke="#d4d4d4" stroke-width="0.6"/>
<line x1="582.4" x2="1043.4" y1="448.21" y2="448.21" stroke="#d4d4d4" stroke-width="0.6"/>
<line x1="582.4" x2="1043.4" y1="403.85" y2="403.85" stroke="#d4d4d4" stroke-width="0.6"/>
<line x1="582.4" x2="1043.4" y1="359.48" y2="359.48" stroke="#d4d4d4" stroke-width="0.6"/>
<rect x="603.35" y="544.03" width="14.62" height="37.27" fill="#dba5a3" fill-opacity="0.28"/>
<rect x="617.97" y="557.12" width="14.62" height="24.18" fill="#8d9cc2" fill-opacity="0.28"/>
<rect x="652.09" y="510.32" width="14.62" height="70.98" fill="#dba5a3" fill-opacity="0.28"/>
<rect x="666.71" y="533.17" width="14.62" height="48.13" fill="#8d9cc2" fill-opacity="0.28"/>
<rect x="700.82" y="448.21" width="14.62" height="133.09" fill="#dba5a3" fill-opacity="0.28"/>
<rect x="715.44" y="484.81" width="14.62" height="96.49" fill="#8d9cc2" fill-opacity="0.28"/>
<rect x="749.55" y="410.5" width="14.62" height="170.8" fill="#dba5a3" fill-opacity="0.28"/>
<rect x="764.17" y="437.34" width="14.62" height="143.96" fill="#8d9cc2" fill-opacity="0.28"/>
<rect x="798.28" y="393.86" width="14.62" height="187.44" fill="#dba5a3" fill-opacity="0.28"/>
<rect x="812.9" y="389.87" width="14.62" height="191.43" fill="#8d9cc2" fill-opacity="0.28"/>
<rect x="847.01" y="380.11" width="14.62" height="201.19" fill="#dba5a3" fill-opacity="0.28"/>
<rect x="861.63" y="384.77" width="14.62" height="196.53" fill="#8d9cc2" fill-opacity="0.28"/>
<rect x="895.74" y="378.56" width="14.62" height="202.74" fill="#dba5a3" fill-opacity="0.28"/>
<rect x="910.36" y="377.45" width="14.62" height="203.85" fill="#8d9cc2" fill-opacity="0.28"/>
<rect x="944.48" y="377.45" width="14.62" height="203.85" fill="#dba5a3" fill-opacity="0.28"/>
<rect x="959.09" y="368.8" width="14.62" height="212.5" fill="#8d9cc2" fill-opacity="0.28"/>
<rect x="993.21" y="376.12" width="14.62" height="205.18" fill="#dba5a3" fill-opacity="0.28"/>
<rect x="1007.83" y="366.58" width="14.62" height="214.72" fill="#8d9cc2" fill-opacity="0.28"/>
<polyline points="617.97,466.27 666.71,443.61 715.44,417.47 764.17,419.21 812.9,407.01 861.63,384.36 910.36,396.56 959.09,403.53 1007.83,424.44" fill="none" stroke="#d5aca9" stroke-width="1.65" stroke-linejoin="round"/>
<polyline points="617.97,532.5 666.71,508.1 715.44,476.73 764.17,481.96 812.9,497.64 861.63,488.93 910.36,495.9 959.09,495.9 1007.83,515.07" fill="none" stroke="#8490ab" stroke-width="1.65" stroke-linejoin="round"/>
<path d="M617.97 462.57L621.67 466.27L617.97 469.97L614.27 466.27Z" fill="#d5aca9"/>
<path d="M666.71 439.91L670.41 443.61L666.71 447.31L663.01 443.61Z" fill="#d5aca9"/>
<path d="M715.44 413.77L719.14 417.47L715.44 421.17L711.74 417.47Z" fill="#d5aca9"/>
<path d="M764.17 415.51L767.87 419.21L764.17 422.91L760.47 419.21Z" fill="#d5aca9"/>
<path d="M812.9 403.31L816.6 407.01L812.9 410.71L809.2 407.01Z" fill="#d5aca9"/>
<path d="M861.63 380.66L865.33 384.36L861.63 388.06L857.93 384.36Z" fill="#d5aca9"/>
<path d="M910.36 392.86L914.06 396.56L910.36 400.26L906.66 396.56Z" fill="#d5aca9"/>
<path d="M959.09 399.83L962.79 403.53L959.09 407.23L955.39 403.53Z" fill="#d5aca9"/>
<path d="M1007.83 420.74L1011.53 424.44L1007.83 428.14L1004.13 424.44Z" fill="#d5aca9"/>
<circle cx="617.97" cy="532.5" r="2.85" fill="#8490ab"/>
<circle cx="666.71" cy="508.1" r="2.85" fill="#8490ab"/>
<circle cx="715.44" cy="476.73" r="2.85" fill="#8490ab"/>
<circle cx="764.17" cy="481.96" r="2.85" fill="#8490ab"/>
<circle cx="812.9" cy="497.64" r="2.85" fill="#8490ab"/>
<circle cx="861.63" cy="488.93" r="2.85" fill="#8490ab"/>
<circle cx="910.36" cy="495.9" r="2.85" fill="#8490ab"/>
<circle cx="959.09" cy="495.9" r="2.85" fill="#8490ab"/>
<circle cx="1007.83" cy="515.07" r="2.85" fill="#8490ab"/>
<rect x="582.4" y="337.3" width="461" height="244" fill="none" stroke="#d6d6d6" stroke-width="0.9"/>
<g font-size="7.6" fill="#222">
<line x1="579.4" x2="582.4" y1="581.3" y2="581.3" stroke="#444" stroke-width="0.8"/>
<text x="577.8" y="584.05" text-anchor="end">0.48</text>
<line x1="579.4" x2="582.4" y1="546.44" y2="546.44" stroke="#444" stroke-width="0.8"/>
<text x="577.8" y="549.19" text-anchor="end">0.50</text>
<line x1="579.4" x2="582.4" y1="511.59" y2="511.59" stroke="#444" stroke-width="0.8"/>
<text x="577.8" y="514.34" text-anchor="end">0.52</text>
<line x1="579.4" x2="582.4" y1="476.73" y2="476.73" stroke="#444" stroke-width="0.8"/>
<text x="577.8" y="479.48" text-anchor="end">0.54</text>
<line x1="579.4" x2="582.4" y1="441.87" y2="441.87" stroke="#444" stroke-width="0.8"/>
<text x="577.8" y="444.62" text-anchor="end">0.56</text>
<line x1="579.4" x2="582.4" y1="407.01" y2="407.01" stroke="#444" stroke-width="0.8"/>
<text x="577.8" y="409.76" text-anchor="end">0.58</text>
<line x1="579.4" x2="582.4" y1="372.16" y2="372.16" stroke="#444" stroke-width="0.8"/>
<text x="577.8" y="374.91" text-anchor="end">0.60</text>
<line x1="579.4" x2="582.4" y1="337.3" y2="337.3" stroke="#444" stroke-width="0.8"/>
<text x="577.8" y="340.05" text-anchor="end">0.62</text>
<line x1="1043.4" x2="1046.4" y1="581.3" y2="581.3" stroke="#444" stroke-width="0.8"/>
<text x="1048.7" y="584.05">0</text>
<line x1="1043.4" x2="1046.4" y1="536.94" y2="536.94" stroke="#444" stroke-width="0.8"/>
<text x="1048.7" y="539.69">20</text>
<line x1="1043.4" x2="1046.4" y1="492.57" y2="492.57" stroke="#444" stroke-width="0.8"/>
<text x="1048.7" y="495.32">40</text>
<line x1="1043.4" x2="1046.4" y1="448.21" y2="448.21" stroke="#444" stroke-width="0.8"/>
<text x="1048.7" y="450.96">60</text>
<line x1="1043.4" x2="1046.4" y1="403.85" y2="403.85" stroke="#444" stroke-width="0.8"/>
<text x="1048.7" y="406.6">80</text>
<line x1="1043.4" x2="1046.4" y1="359.48" y2="359.48" stroke="#444" stroke-width="0.8"/>
<text x="1048.7" y="362.23">100</text>
<text x="617.97" y="591.5" text-anchor="middle">32</text>
<text x="666.71" y="591.5" text-anchor="middle">64</text>
<text x="715.44" y="591.5" text-anchor="middle">128</text>
<text x="764.17" y="591.5" text-anchor="middle">192</text>
<text x="812.9" y="591.5" text-anchor="middle">256</text>
<text x="861.63" y="591.5" text-anchor="middle">384</text>
<text x="910.36" y="591.5" text-anchor="middle">512</text>
<text x="959.09" y="591.5" text-anchor="middle">640</text>
<text x="1007.83" y="591.5" text-anchor="middle">768</text>
</g>
<g font-size="6.4" text-anchor="middle">
<text x="617.97" y="460.87" fill="#bf7e7b">0.546</text>
<text x="666.71" y="438.21" fill="#bf7e7b">0.559</text>
<text x="715.44" y="412.07" fill="#bf7e7b">0.574</text>
<text x="764.17" y="413.81" fill="#bf7e7b">0.573</text>
<text x="812.9" y="401.61" fill="#bf7e7b">0.580</text>
<text x="861.63" y="378.96" fill="#bf7e7b">0.593</text>
<text x="910.36" y="391.16" fill="#bf7e7b">0.586</text>
<text x="959.09" y="398.13" fill="#bf7e7b">0.582</text>
<text x="1007.83" y="419.04" fill="#bf7e7b">0.570</text>
<text x="617.97" y="524.6" fill="#7490ca">0.508</text>
<text x="666.71" y="500.2" fill="#7490ca">0.522</text>
<text x="715.44" y="468.83" fill="#7490ca">0.540</text>
<text x="764.17" y="474.06" fill="#7490ca">0.537</text>
<text x="812.9" y="489.74" fill="#7490ca">0.528</text>
<text x="861.63" y="481.03" fill="#7490ca">0.533</text>
<text x="910.36" y="488" fill="#7490ca">0.529</text>
<text x="959.09" y="488" fill="#7490ca">0.529</text>
<text x="1007.83" y="507.17" fill="#7490ca">0.518</text>
</g>
<text x="812.9" y="327.7" font-size="12.8" fill="#262626" text-anchor="middle">VideoMME Performance - Long</text>
<text x="812.9" y="602" font-size="9.6" fill="#222" text-anchor="middle">Frames</text>
<text transform="translate(558.4 459.3) rotate(-90)" font-size="10.1" fill="#222" text-anchor="middle" textLength="74.6" lengthAdjust="spacingAndGlyphs">VideoMME Score</text>
<text transform="translate(1071.4 459.3) rotate(-90)" font-size="10.1" fill="#222" text-anchor="middle" textLength="47.6" lengthAdjust="spacingAndGlyphs">Tokens (/k)</text>
<rect x="593.9" y="344.9" width="93.4" height="20.4" rx="1.4" fill="#fff" fill-opacity="0.8" stroke="#e2e2e2" stroke-width="0.7"/>
<line x1="596.9" x2="610.9" y1="350.3" y2="350.3" stroke="#d5aca9" stroke-width="1.5"/>
<path d="M604.1 346.6L607.8 350.3L604.1 354L600.4 350.3Z" fill="#d5aca9"/>
<text x="615.3" y="352.4" font-size="6.4" fill="#222">Keye-VL-1.5-8B-Base</text>
<line x1="596.9" x2="610.9" y1="359.5" y2="359.5" stroke="#8490ab" stroke-width="1.5"/>
<circle cx="604.1" cy="359.5" r="2.9" fill="#8490ab"/>
<text x="615.3" y="361.6" font-size="6.4" fill="#222">Qwen2.5-VL-7B-Instruct</text>
</g>
<defs><mask id="wm" maskUnits="userSpaceOnUse" x="770" y="540" width="70" height="50"><rect x="770" y="540" width="70" height="50" fill="#fff"/><ellipse cx="809.3" cy="569.5" rx="13.5" ry="10.9" fill="#000"/><circle cx="790.4" cy="557.2" r="1.7" fill="#000"/><circle cx="800" cy="557.2" r="1.7" fill="#000"/></mask><mask id="wm2" maskUnits="userSpaceOnUse" x="770" y="540" width="70" height="50"><rect x="770" y="540" width="70" height="50" fill="#fff"/><circle cx="805.2" cy="567.6" r="1.4" fill="#000"/><circle cx="813.3" cy="567.6" r="1.4" fill="#000"/></mask></defs>
<g opacity="0.84">
<g fill="#8d8d8d" mask="url(#wm)">
<ellipse cx="795.1" cy="560.4" rx="14.3" ry="11.7"/>
<path d="M786.3 569.2L784.9 574.7L792.2 571.2Z"/>
</g>
<g fill="#777779" mask="url(#wm2)">
<ellipse cx="809.3" cy="569.5" rx="12.3" ry="9.7"/>
<path d="M813.6 578.2L818.2 581.3L817.6 576.4Z"/>
</g>
<text y="575.8" font-size="28.6" fill="#868686" letter-spacing="2.4"><tspan x="830.3">公众号</tspan><tspan x="922.4" dy="-1.2"> · </tspan><tspan x="955.9" dy="1.2">量子位</tspan></text>
</g>
</svg>
</body>
</html>
